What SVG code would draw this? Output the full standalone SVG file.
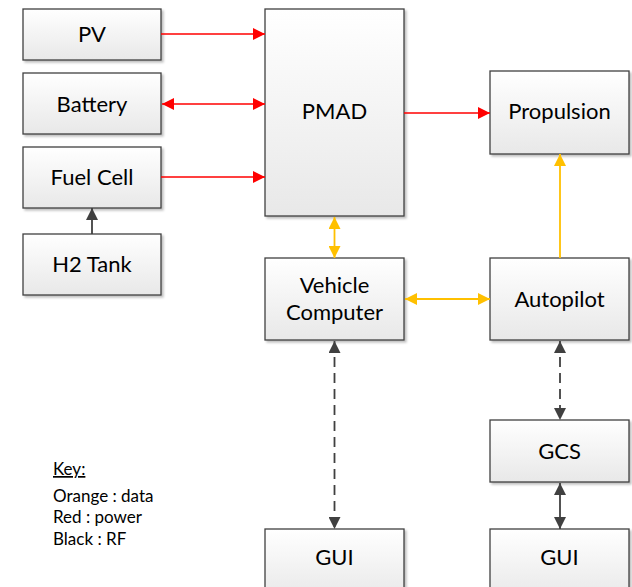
<svg xmlns="http://www.w3.org/2000/svg" width="632" height="587" viewBox="0 0 632 587">
<defs>
<linearGradient id="g" x1="0" y1="0" x2="0" y2="1">
<stop offset="0" stop-color="#ffffff"/>
<stop offset="1" stop-color="#e8e8e8"/>
</linearGradient>
<filter id="sh" x="-10%" y="-10%" width="130%" height="130%">
<feDropShadow dx="2" dy="2" stdDeviation="1.2" flood-color="#000" flood-opacity="0.25"/>
</filter>
<marker id="ar" viewBox="0 0 12 12" refX="12" refY="6" markerWidth="12" markerHeight="12" markerUnits="userSpaceOnUse" orient="auto-start-reverse"><path d="M0,0 L12,6 L0,12 z" fill="#ff0000"/></marker>
<marker id="ao" viewBox="0 0 12 12" refX="12" refY="6" markerWidth="12" markerHeight="12" markerUnits="userSpaceOnUse" orient="auto-start-reverse"><path d="M0,0 L12,6 L0,12 z" fill="#ffc000"/></marker>
<marker id="ak" viewBox="0 0 12 12" refX="12" refY="6" markerWidth="12" markerHeight="12" markerUnits="userSpaceOnUse" orient="auto-start-reverse"><path d="M0,0 L12,6 L0,12 z" fill="#404040"/></marker>
</defs>
<style>
.box{fill:url(#g);stroke:#404040;stroke-width:1.3;filter:url(#sh)}
.lbl{font-family:Lato,"Liberation Sans",sans-serif;font-size:22px;fill:#000;text-anchor:middle}
.key{font-family:Lato,"Liberation Sans",sans-serif;font-size:17px;fill:#000}
.red{stroke:#ff0000;stroke-width:1.6;fill:none}
.org{stroke:#ffc000;stroke-width:1.8;fill:none}
.blk{stroke:#404040;stroke-width:1.8;fill:none}
.dash{stroke-dasharray:10 6}
</style>
<rect width="632" height="587" fill="#ffffff"/>
<g id="pv"><rect class="box" x="23" y="9" width="138" height="51"/><text class="lbl" x="92" y="42">PV</text></g>
<g id="battery"><rect class="box" x="23" y="73" width="138" height="61"/><text class="lbl" x="92" y="111.5">Battery</text></g>
<g id="fuelcell"><rect class="box" x="23" y="147" width="138" height="61"/><text class="lbl" x="92" y="185">Fuel Cell</text></g>
<g id="h2tank"><rect class="box" x="23" y="234" width="138" height="61"/><text class="lbl" x="92" y="271.5">H2 Tank</text></g>
<g id="pmad"><rect class="box" x="265" y="9" width="139" height="207"/><text class="lbl" x="334.5" y="119">PMAD</text></g>
<g id="propulsion"><rect class="box" x="490" y="71" width="139" height="83"/><text class="lbl" x="559.5" y="119">Propulsion</text></g>
<g id="vehiclecomputer"><rect class="box" x="265" y="258" width="139" height="82"/><text class="lbl" x="334.5" y="292.5">Vehicle</text><text class="lbl" x="334.5" y="320">Computer</text></g>
<g id="autopilot"><rect class="box" x="490" y="258" width="139" height="82"/><text class="lbl" x="559.5" y="306.5">Autopilot</text></g>
<g id="gcs"><rect class="box" x="490" y="420" width="139" height="62"/><text class="lbl" x="559.5" y="459">GCS</text></g>
<g id="gui1"><rect class="box" x="265" y="529" width="139" height="70"/><text class="lbl" x="334.5" y="565">GUI</text></g>
<g id="gui2"><rect class="box" x="490" y="529" width="139" height="70"/><text class="lbl" x="559.5" y="565">GUI</text></g>
<g id="key">
<text class="key" x="53" y="475" text-decoration="underline">Key:</text>
<text class="key" x="53" y="501.5">Orange : data</text>
<text class="key" x="53" y="523">Red : power</text>
<text class="key" x="53" y="545">Black : RF</text>
</g>
<g id="connectors">
<path class="red" d="M161,34 H265" marker-end="url(#ar)"/>
<path class="red" d="M162,104 H265" marker-start="url(#ar)" marker-end="url(#ar)"/>
<path class="red" d="M161,177 H265" marker-end="url(#ar)"/>
<path class="red" d="M404,113 H490" marker-end="url(#ar)"/>
<path class="blk" d="M92,234 V208" marker-end="url(#ak)"/>
<path class="org" d="M334.5,217 V258" marker-start="url(#ao)" marker-end="url(#ao)"/>
<path class="org" d="M405,299 H490" marker-start="url(#ao)" marker-end="url(#ao)"/>
<path class="org" d="M560,258 V154" marker-end="url(#ao)"/>
<path class="blk dash" d="M560,341 V420" marker-start="url(#ak)" marker-end="url(#ak)"/>
<path class="blk" d="M560,483 V529" marker-start="url(#ak)" marker-end="url(#ak)"/>
<path class="blk dash" d="M334.5,341 V529" marker-start="url(#ak)" marker-end="url(#ak)"/>
</g>
</svg>
